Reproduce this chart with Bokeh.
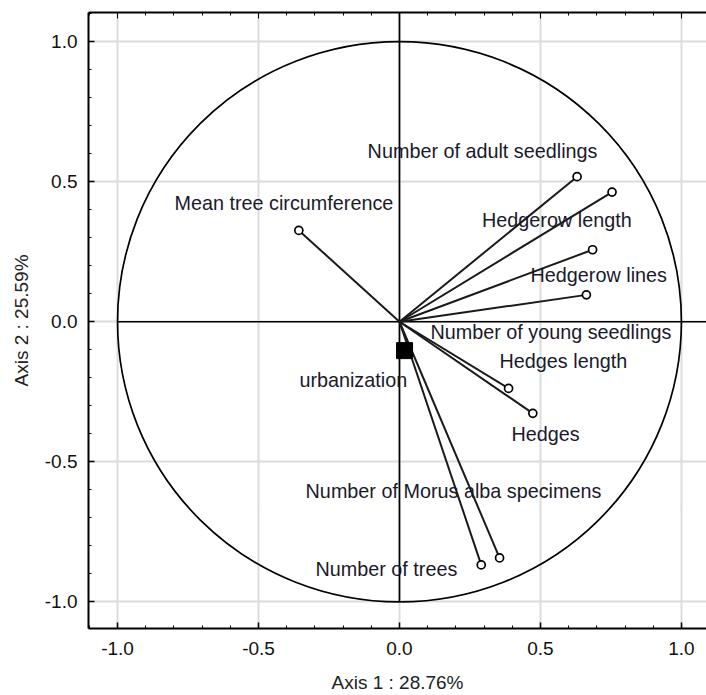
from bokeh.plotting import figure
from bokeh.models import ColumnDataSource, LinearAxis, FixedTicker, Range1d
from bokeh.core.properties import value
from bokeh.embed import file_html
from bokeh.resources import INLINE

# ---- data ----
variables = ["Number of adult seedlings", "Hedgerow length", "Hedgerow lines",
             "Number of young seedlings", "Mean tree circumference", "Hedges length",
             "Hedges", "Number of Morus alba specimens", "Number of trees"]
axis1 = [0.630, 0.754, 0.685, 0.663, -0.357, 0.387, 0.473, 0.355, 0.290]
axis2 = [0.518, 0.463, 0.257, 0.096, 0.326, -0.238, -0.327, -0.843, -0.868]

supp_name = ["urbanization"]
supp_axis1 = [0.018]
supp_axis2 = [-0.103]

label_texts = ["Number of adult seedlings", "Mean tree circumference", "Hedgerow length",
               "Hedgerow lines", "Number of young seedlings", "Hedges length",
               "urbanization", "Hedges", "Number of Morus alba specimens", "Number of trees"]
label_x = [-0.113, -0.798, 0.293, 0.465, 0.110, 0.355, -0.355, 0.397, -0.333, -0.298]
label_y = [0.610, 0.425, 0.364, 0.168, -0.038, -0.141, -0.209, -0.401, -0.604, -0.881]

ticks = [-1.0, -0.5, 0.0, 0.5, 1.0]
minor = [round(-1.1 + 0.1 * i, 2) for i in range(23)]

FONT = "Liberation Sans"

x_rng = Range1d(-1.103, 1.089)
y_rng = Range1d(-1.095, 1.104)

p = figure(width=706, height=695, x_range=x_rng, y_range=y_rng,
           output_backend="svg", toolbar_location=None,
           min_border_left=88, min_border_top=12, min_border_bottom=65, min_border_right=0,
           x_axis_label="Axis 1 : 28.76%", y_axis_label="Axis 2 : 25.59%")
p.outline_line_color = None
p.background_fill_color = "white"
p.border_fill_color = "white"

for ax in (p.xaxis[0], p.yaxis[0]):
    ax.ticker = FixedTicker(ticks=ticks, minor_ticks=minor)
    ax.major_tick_in = 6
    ax.major_tick_out = 0
    ax.minor_tick_in = 3
    ax.minor_tick_out = 0
    ax.major_tick_line_color = "black"
    ax.minor_tick_line_color = "black"
    ax.major_tick_line_width = 1.5
    ax.axis_line_color = "black"
    ax.axis_line_width = 2
    ax.major_label_text_font = FONT
    ax.major_label_text_font_size = "19px"
    ax.major_label_text_color = "#111111"
    ax.major_label_standoff = 11
    ax.axis_label_text_font = FONT
    ax.axis_label_text_font_size = "19px"
    ax.axis_label_text_font_style = "normal"
    ax.axis_label_text_color = "#222222"
    ax.axis_label_standoff = 12
p.xaxis[0].major_label_standoff = 13
p.xaxis[0].axis_label_standoff = 14
p.yaxis[0].axis_label_standoff = 10
p.xaxis[0].major_label_overrides = {t: f"{t:.1f}" for t in ticks}
p.yaxis[0].major_label_overrides = {t: f"{t:.1f}" for t in ticks}

top = LinearAxis(ticker=FixedTicker(ticks=ticks, minor_ticks=minor),
                 major_label_overrides={t: "" for t in ticks},
                 major_tick_in=6, major_tick_out=0,
                 minor_tick_in=3, minor_tick_out=0, axis_line_width=2,
                 major_label_standoff=0)
p.add_layout(top, "above")

p.xgrid.ticker = FixedTicker(ticks=ticks)
p.ygrid.ticker = FixedTicker(ticks=ticks)
for g in (p.xgrid[0], p.ygrid[0]):
    g.grid_line_color = "#dcdcdc"
    g.grid_line_width = 2

# zero lines
p.segment(x0=[-1.0, 0.0], y0=[0.0, -1.0], x1=[x_rng.end, 0.0], y1=[0.0, y_rng.end],
          line_color="black", line_width=1.7)

# unit circle
p.ellipse(x=[0], y=[0], width=[2], height=[2], fill_color=None,
          line_color="black", line_width=1.7)

src = ColumnDataSource(dict(x=axis1, y=axis2, x0=[0] * len(axis1), y0=[0] * len(axis1), name=variables))
p.segment(x0="x0", y0="y0", x1="x", y1="y", source=src, line_color="#1a1a1a", line_width=2)
p.scatter(x="x", y="y", source=src, size=8, marker="circle", fill_color="white",
          line_color="black", line_width=1.7)

p.scatter(x=supp_axis1, y=supp_axis2, size=16, marker="square", fill_color="black", line_color="black")

lsrc = ColumnDataSource(dict(x=label_x, y=label_y, t=label_texts))
p.text(x="x", y="y", text="t", source=lsrc, text_font=value(FONT), text_font_size="19.8px",
       text_color="#1a1a2a", text_align="left", text_baseline="middle")

open("out.html", "w").write(file_html(p, INLINE))
